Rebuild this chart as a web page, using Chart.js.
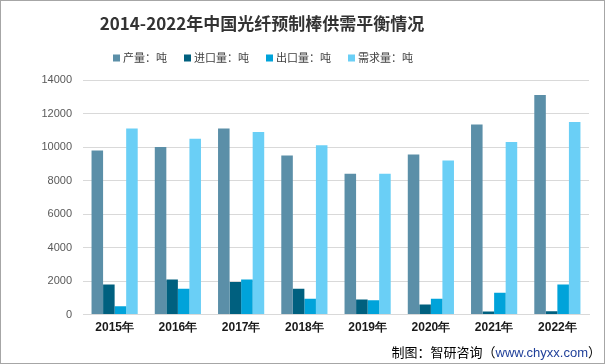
<!DOCTYPE html>
<html><head><meta charset="utf-8">
<script src="https://cdn.jsdelivr.net/npm/chart.js@4/dist/chart.umd.min.js"></script>
<style>
html,body{margin:0;padding:0;background:#fff;}
#wrap{position:relative;width:605px;height:364px;box-sizing:border-box;border:1px solid #A6A6A6;}
canvas{position:absolute;left:0;top:0;}
</style></head><body>
<div id="wrap"><canvas id="c" width="603" height="362"></canvas></div>
<script>
const categories = ["2015年","2016年","2017年","2018年","2019年","2020年","2021年","2022年"];
const seriesNames = ["产量：吨","进口量：吨","出口量：吨","需求量：吨"];
const production = [9800,10000,11100,9500,8400,9550,11350,13100];
const imports = [1800,2100,1950,1550,900,600,180,200];
const exports = [500,1550,2100,950,850,950,1300,1800];
const demand = [11100,10500,10900,10100,8400,9200,10300,11500];
const colors = ["#5B8FA8","#00607F","#00A3DA","#6ACFF6"];
const yTicks = [0,2000,4000,6000,8000,10000,12000,14000];
const titleText = '2014-2022年中国光纤预制棒供需平衡情况';

const decor = {
  id:'decor',
  afterDraw(chart){
    const ctx = chart.ctx;
    ctx.save();
    // title
    ctx.font = 'bold 17px "Noto Sans CJK SC"';
    ctx.fillStyle = '#333333';
    ctx.textAlign = 'center';
    ctx.textBaseline = 'middle';
    ctx.fillText(titleText, 261, 23);
    // legend
    ctx.font = '11px "Noto Sans CJK SC"';
    ctx.textAlign = 'left';
    const gap = 17, box = 7, off = 10;
    const widths = seriesNames.map(s=>off+ctx.measureText(s).width);
    const total = widths.reduce((a,b)=>a+b,0)+gap*(seriesNames.length-1);
    let x = 262 - total/2;
    chart.data.datasets.forEach((ds,i)=>{
      ctx.fillStyle = ds.backgroundColor;
      ctx.fillRect(x, 57-box/2, box, box);
      ctx.fillStyle = '#404040';
      ctx.fillText(ds.label, x+off, 57);
      x += widths[i]+gap;
    });
    // footer
    ctx.textAlign = 'right';
    const t1 = '制图：智研咨询（', t2 = 'www.chyxx.com', t3 = '）';
    x = 600;
    ctx.font = '13px "Noto Sans CJK SC"';
    ctx.fillStyle = '#000';
    ctx.fillText(t3, x, 351); x -= ctx.measureText(t3).width;
    ctx.fillStyle = '#1F3F99';
    ctx.font = '13px "Liberation Sans"';
    ctx.fillText(t2, x, 352); x -= ctx.measureText(t2).width;
    ctx.fillStyle = '#000';
    ctx.font = '13px "Noto Sans CJK SC"';
    ctx.fillText(t1, x, 351);
    ctx.restore();
  }
};

const data = [production, imports, exports, demand];
new Chart(document.getElementById('c'), {
  type:'bar',
  data:{
    labels:categories,
    datasets:data.map((d,i)=>({label:seriesNames[i],data:d,backgroundColor:colors[i],borderWidth:0,categoryPercentage:0.73,barPercentage:1.0}))
  },
  options:{
    responsive:false,animation:false,
    layout:{padding:{left:0,right:15,top:79,bottom:22}},
    plugins:{
      title:{display:false},
      legend:{display:false},
      tooltip:{enabled:false}
    },
    scales:{
      x:{grid:{display:false,drawTicks:false},border:{display:true,color:'#D9D9D9',width:1},
         ticks:{color:'#1a1a1a',font:{family:'"Liberation Sans"',size:12,weight:'bold'},padding:6}},
      y:{min:0,max:14000,afterBuildTicks(s){s.ticks=yTicks.map(v=>({value:v}));},
         afterFit(s){s.width=82;},
         grid:{color:'#D9D9D9',drawTicks:false},border:{display:false},
         ticks:{color:'#595959',font:{family:'"Liberation Sans"',size:11},padding:11,callback:(v)=>String(v)}}
    }
  },
  plugins:[decor]
});
</script>
</body></html>
